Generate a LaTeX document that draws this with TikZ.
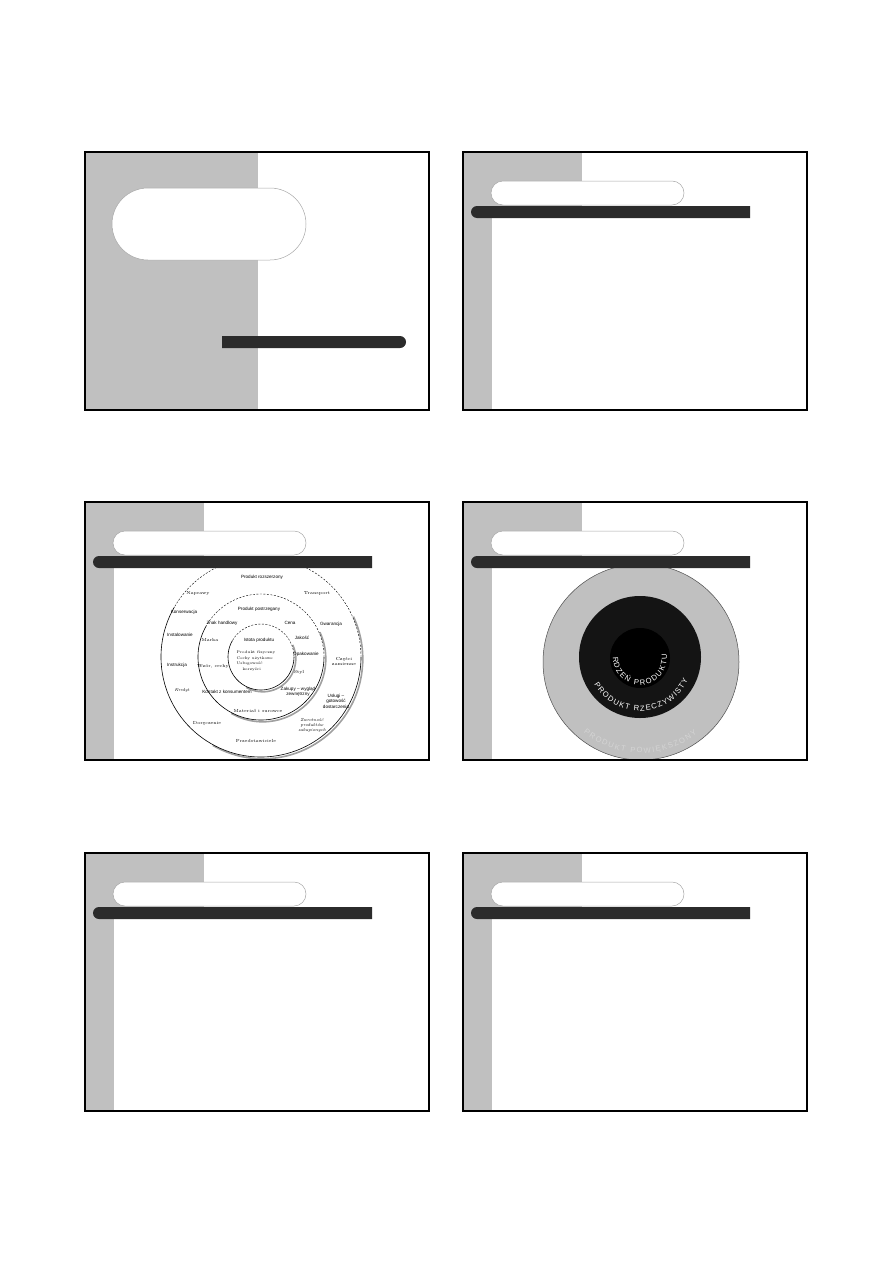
\documentclass[tikz,border=0pt]{standalone}
\usepackage{fontspec}
\setsansfont{Liberation Sans}
\usetikzlibrary{decorations.text}
\definecolor{slgray}{HTML}{C0C0C0}
\definecolor{bardark}{HTML}{2B2B2B}
\definecolor{pillline}{HTML}{A8A8A8}
\definecolor{shadowgray}{HTML}{A0A0A0}
\definecolor{faintgray}{HTML}{D4D4D4}
\newcommand\ringfont{\sffamily\fontsize{7.6}{8}\selectfont}
\newcommand\hdrbg[2]{%
 \begin{scope}[shift={(#1,-#2)}]
  \fill[white] (0,0) rectangle (344,-258);
  \fill[slgray] (0,0) rectangle (119,-54);
  \fill[slgray] (0,0) rectangle (29,-258);
  \draw[pillbox] (28,-29) rectangle (221,-53);
 \end{scope}}
\newcommand\hdrbar[2]{%
 \begin{scope}[shift={(#1,-#2)}]
  \fill[bardark] (14,-54) -- (287,-54) -- (287,-66) -- (14,-66) arc[start angle=270,end angle=90,radius=6] -- cycle;
  \draw[frameline] (0,0) rectangle (344,-258);
 \end{scope}}
\tikzset{
 pillbox/.style={draw=pillline, line width=0.5pt, fill=white, rounded corners=12},
 frameline/.style={draw=black, line width=1.4pt},
 lbl/.style={font=\fontsize{4.4}{5}\selectfont, inner sep=0pt, align=center},
 lblb/.style={font=\sffamily\fontsize{4.6}{5.4}\selectfont, inner sep=0pt, align=center},
 lbli/.style={font=\itshape\fontsize{4.4}{5}\selectfont, inner sep=0pt, align=center},
 lbls/.style={font=\fontsize{3.8}{5.6}\selectfont, inner sep=0pt, align=left}
}
\begin{document}
\begin{tikzpicture}[x=1pt,y=1pt]
\useasboundingbox (0,0) rectangle (893,-1263);
\fill[white] (0,0) rectangle (893,-1263);

% ---------- slide 1 (title) ----------
\begin{scope}[shift={(85,-152)}]
 \fill[white] (0,0) rectangle (344,-258);
 \fill[slgray] (0,0) rectangle (173,-258);
 \draw[pillbox, rounded corners=36] (27,-36) rectangle (221,-108);
 \fill[bardark] (137,-184) -- (315,-184) arc[start angle=90,end angle=-90,radius=6] -- (137,-196) -- cycle;
 \draw[frameline] (0,0) rectangle (344,-258);
\end{scope}

% ---------- slide 2 ----------
\hdrbg{463}{152}
\hdrbar{463}{152}

% ---------- slide 3 (product levels) ----------
\hdrbg{85}{502}
\begin{scope}
 \clip (85,-502) rectangle (429,-760);
 \begin{scope}[shift={(262.8,-658.8)}]
  \foreach \r in {100,63,33}
   \draw[shadowgray, line width=1.6pt] (-120:\r) arc[start angle=-120,end angle=25,radius=\r];
 \end{scope}
 \begin{scope}[shift={(261,-657)}]
  \foreach \r in {100,63,33}{
   \draw[line width=0.6pt] (150:\r) arc[start angle=150,end angle=360,radius=\r];
   \draw[line width=0.4pt, dash pattern=on 2pt off 1.5pt] (0:\r) arc[start angle=0,end angle=150,radius=\r];
  }
 \end{scope}
\end{scope}
\node[lblb] (t1) at (262,-577) {Produkt rozszerzony};
\node[lbl] (t2) at (198,-593) {Naprawy};
\node[lbl] (t3) at (317,-593) {Transport};
\node[lblb] (t4) at (184,-612) {Konserwacja};
\node[lblb] (t5) at (259,-609) {Produkt postrzegany};
\node[lblb] (t6) at (222,-623) {Znak handlowy};
\node[lblb] (t7) at (290,-623) {Cena};
\node[lblb] (t8) at (331,-624) {Gwarancja};
\node[lblb] (t9) at (180,-635) {Instalowanie};
\node[lbl] (t10) at (210,-640) {Marka};
\node[lblb] (t11) at (259,-640) {Istota produktu};
\node[lblb] (t12) at (302,-638) {Jakość};
\node[lblb] (t13) at (306,-654) {Opakowanie};
\node[lbl] (t14) at (344,-661) {Części\\zamienne};
\node[lblb] (t15) at (177,-665) {Instrukcja};
\node[lbl] (t16) at (213,-666) {Wzór, cechy};
\node[lbls] (t17) at (256,-661) {Produkt fizyczny\\Cechy użytkowe\\Usługowość\\\hspace*{6pt}korzyści};
\node[lbl] (t18) at (299,-672) {Styl};
\node[lbli] (t19) at (182,-690) {Kredyt};
\node[lblb] (t20) at (227,-692) {Kontakt z konsumentem};
\node[lblb] (t21) at (298,-692) {Zakupy – wygląd\\zewnętrzny};
\node[lblb] (t22) at (336,-701) {Usługi –\\gotowość\\dostarczenia};
\node[lbl] (t23) at (258,-711) {Materiał i surowce};
\node[lbli] (t24) at (312,-725) {Zwrotność\\produktów\\zakupionych};
\node[lbl] (t25) at (207,-724) {Doręczenie};
\node[lbl] (t26) at (256,-741) {Przedstawiciele};
\hdrbar{85}{502}

% ---------- slide 4 (rings) ----------
\hdrbg{463}{502}
\begin{scope}
 \clip (463,-502) rectangle (807,-760);
 \fill[slgray, draw=black!70, line width=0.5pt] (641,-662) circle[radius=98];
 \fill[black!92] (640,-657) circle[radius=61];
 \fill[black] (640,-658) circle[radius=30];
 \begin{scope}[shift={(640,-658)}]
  \path[decorate, decoration={text along path, text align={fit to path}, text color=white,
    text={|\ringfont|RDZEŃ PRODUKTU}}] (178:27) arc[start angle=178,end angle=368,radius=27];
  \path[decorate, decoration={text along path, text align={fit to path}, text color=white,
    text={|\ringfont|PRODUKT RZECZYWISTY}}] (210:53) arc[start angle=210,end angle=335,radius=53];
 \end{scope}
 \begin{scope}[shift={(641,-662)}]
  \path[decorate, decoration={text along path, text align={fit to path}, text color=faintgray,
    text={|\ringfont|PRODUKT POWIĘKSZONY}}] (231:91) arc[start angle=231,end angle=308,radius=91];
 \end{scope}
\end{scope}
\hdrbar{463}{502}

% ---------- slides 5 and 6 ----------
\hdrbg{85}{853}
\hdrbar{85}{853}
\hdrbg{463}{853}
\hdrbar{463}{853}
\end{tikzpicture}
\end{document}
